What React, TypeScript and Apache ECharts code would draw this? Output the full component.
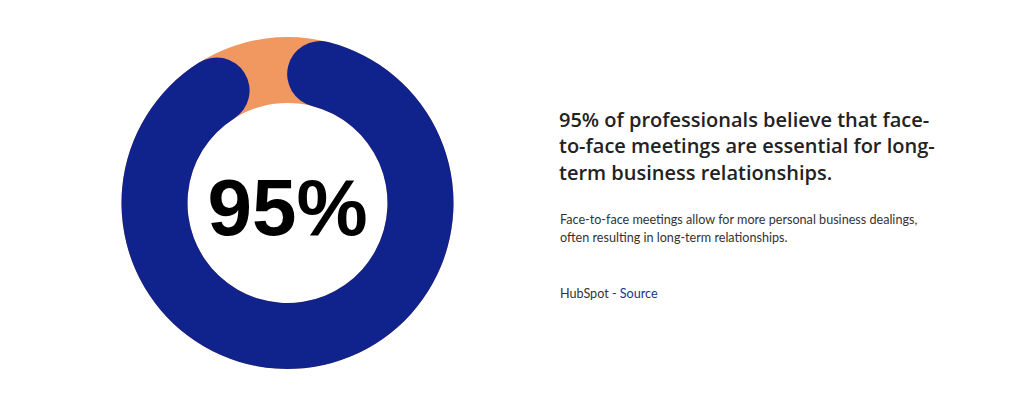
import React, { useEffect, useRef } from "react";
import * as echarts from "echarts";

const shareLabel = "Professionals who believe face-to-face meetings are essential";
const shareValue = 95;
const shareTotal = 100;

const headingLines = [
  "95% of professionals believe that face-",
  "to-face meetings are essential for long-",
  "term business relationships.",
];
const bodyLines = [
  "Face-to-face meetings allow for more personal business dealings,",
  "often resulting in long-term relationships.",
];
const sourceName = "HubSpot - ";
const sourceLink = "Source";

const BLUE = "#10238d";
const ORANGE = "#f0985f";

export default function App() {
  const ref = useRef<HTMLDivElement>(null);
  useEffect(() => {
    if (!ref.current) return;
    const chart = echarts.init(ref.current, undefined, { renderer: "svg" });

    const cx = 287.5;
    const cy = 203;
    const R = 166;
    const w = 66;
    const capDeg = ((w / 2) / (R - w / 2)) * (180 / Math.PI);
    const visibleSweep = (shareValue / shareTotal) * 360;
    const centerSweep = visibleSweep - 2 * capDeg;
    const startAngle = 90 - capDeg;
    const endAngle = startAngle - (centerSweep * shareTotal) / shareValue;

    const graphics: any[] = [];
    headingLines.forEach((t, i) => {
      graphics.push({
        type: "text",
        left: 559,
        top: 109 + i * 26.7,
        style: {
          text: t,
          font: "600 20px 'Open Sans'",
          fill: "#222222",
        },
      });
    });
    bodyLines.forEach((t, i) => {
      graphics.push({
        type: "text",
        left: 560,
        top: 213 + i * 17.5,
        style: {
          text: t,
          font: "12.6px Lato",
          fill: "#333333",
        },
      });
    });
    graphics.push({
      type: "text",
      left: 560,
      top: 287,
      style: {
        rich: {
          a: { fontFamily: "Lato", fontSize: 12.6, fill: "#333333" },
          b: { fontFamily: "Lato", fontSize: 12.6, fill: "#1e2e96" },
        },
        text: `{a|${sourceName}}{b|${sourceLink}}`,
      },
    });

    chart.setOption({
      animation: false,
      backgroundColor: "#ffffff",
      graphic: graphics,
      series: [
        {
          type: "gauge",
          center: [cx, cy],
          radius: R,
          startAngle: 90,
          endAngle: -270,
          min: 0,
          max: shareTotal,
          axisLine: { lineStyle: { width: w, color: [[1, ORANGE]] } },
          axisTick: { show: false },
          splitLine: { show: false },
          axisLabel: { show: false },
          pointer: { show: false },
          detail: { show: false },
          title: { show: false },
          data: [],
          silent: true,
        },
        {
          type: "gauge",
          center: [cx, cy],
          radius: R,
          startAngle,
          endAngle,
          min: 0,
          max: shareTotal,
          axisLine: { show: false, lineStyle: { width: w } },
          progress: {
            show: true,
            width: w,
            roundCap: true,
            itemStyle: { color: BLUE },
          },
          axisTick: { show: false },
          splitLine: { show: false },
          axisLabel: { show: false },
          pointer: { show: false },
          title: { show: false },
          detail: {
            show: true,
            offsetCenter: [0, 4],
            formatter: "{value}%",
            fontFamily: "Liberation Sans",
            fontWeight: "bold",
            fontSize: 80,
            color: "#000000",
          },
          data: [{ value: shareValue, name: shareLabel }],
        },
      ],
    });
    return () => chart.dispose();
  }, []);
  return (
    <div
      ref={ref}
      style={{ position: "absolute", left: 0, top: 0, width: 1024, height: 418 }}
    />
  );
}
